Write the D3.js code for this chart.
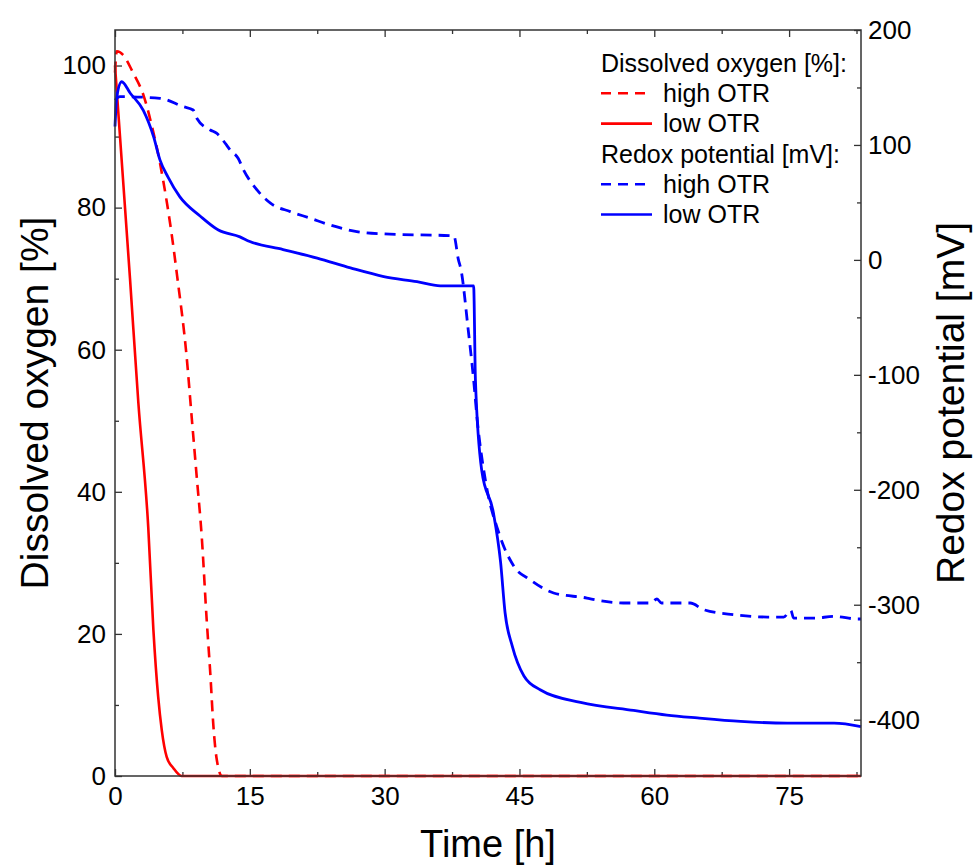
<!DOCTYPE html>
<html>
<head>
<meta charset="utf-8">
<script src="https://cdn.jsdelivr.net/npm/d3@7"></script>
<style>
  body { margin: 0; background: #fff; }
  svg text { font-family: "Liberation Sans", Arial, sans-serif; fill: #000; }
</style>
</head>
<body>
<div id="chart"></div>
<script>
// Dissolved oxygen [%], high OTR (dashed red)
const doHighTime = [0, 0.2, 0.9, 2.0, 3.2, 4.1, 5.0, 5.8, 6.3, 6.9, 8.0, 8.5, 9.1, 9.65, 10.2, 10.6, 10.95, 11.3, 11.9, 83];
const doHighVal  = [99, 102, 101.5, 99, 95.7, 91.5, 86.3, 80.5, 76.3, 70.5, 58.6, 51, 42, 33.7, 22, 14.5, 7, 2.5, 0, 0];

// Dissolved oxygen [%], low OTR (solid red)
const doLowTime = [0, 1.67, 2.6, 3.7, 4.27, 4.8, 5.2, 5.75, 6.5, 7.4, 83];
const doLowVal  = [100, 70, 52.5, 35, 20.6, 11.2, 6.5, 2.7, 1.1, 0, 0];

// Redox potential [mV], high OTR (dashed blue)
const redoxHighTime = [0, 0.55, 5, 7.6, 8.7, 9.1, 10.6, 11.3, 12.4, 12.8, 13.7, 14.3, 15.8, 17.3, 19.5, 21.7, 23.9, 26.9, 29.9, 37.7,
  38.2, 38.5, 39.3, 39.9, 40.3, 41.2, 42.7, 44.4, 46.2, 48.8, 52.5, 53.4, 57, 59.6, 60.3, 60.8, 64, 65.5, 68.9, 72.6, 74.4, 75.2, 75.5, 77.8, 80, 82.6, 83];
const redoxHighVal  = [139, 142, 140.6, 133.3, 130.4, 123.2, 113, 110.2, 100, 95.7, 88.4, 78.3, 60.9, 49.3, 42, 36.3, 30.4, 24.6, 22.6, 20.9,
  0.5, -8.7, -60.9, -104.3, -139.1, -191.3, -237.4, -266.7, -278.3, -289.8, -294.2, -295.7, -298.5, -298.5, -295, -298.5, -298.5, -304.3, -308.7, -310.7, -310.7, -305, -311.6, -311.6, -310.2, -312.4, -312.4];

// Redox potential [mV], low OTR (solid blue)
const redoxLowTime = [0, 0.2, 0.75, 1.7, 3.15, 4.3, 5.0, 5.9, 7.2, 9.5, 11.5, 13.9, 15, 18.7, 22.5, 26.2, 29.9, 33.6, 36.2, 39.9,
  40.1, 40.8, 42.1, 42.9, 43.4, 44.2, 45.5, 47.3, 51.8, 57.7, 61.4, 64.8, 69.6, 74.8, 80, 83];
const redoxLowVal  = [116, 142, 155, 145, 130, 107, 87, 72, 55, 38, 26, 20, 16, 9, 1.5, -7, -14.5, -19, -22.6, -22.6,
  -104, -183, -220, -263, -307, -336, -362, -374, -385, -392, -396, -398.5, -401.5, -403, -403, -406];

// Axis ticks
const xMajor = [0, 15, 30, 45, 60, 75];
const xMinor = [7.5, 22.5, 37.5, 52.5, 67.5, 82.5];
const yLeftMajor = [0, 20, 40, 60, 80, 100];
const yLeftMinor = [10, 30, 50, 70, 90];
const yRightMajor = [-400, -300, -200, -100, 0, 100, 200];
const yRightMinor = [-350, -250, -150, -50, 50, 150];

const width = 973, height = 868;
const margin = {top: 30, right: 112, bottom: 92, left: 115};

const svg = d3.select("#chart").append("svg")
  .attr("width", width)
  .attr("height", height);

const x = d3.scaleLinear().domain([0, 83]).range([margin.left, width - margin.right]);
const yL = d3.scaleLinear().domain([0, 105]).range([height - margin.bottom, margin.top]);
const yR = d3.scaleLinear().domain([-449, 200]).range([height - margin.bottom, margin.top]);

const fontTick = 26;
const plain = d => String(d);   // hyphen minus like the original

// bottom axis (ticks inward)
svg.append("g").attr("transform", `translate(0,${height - margin.bottom})`)
  .call(d3.axisBottom(x).tickValues(xMajor).tickFormat(plain).tickSizeInner(-7).tickSizeOuter(0).tickPadding(11));
svg.append("g").attr("transform", `translate(0,${height - margin.bottom})`)
  .call(d3.axisBottom(x).tickValues(xMinor).tickSizeInner(-4).tickSizeOuter(0).tickFormat(""));
// top axis, ticks only
svg.append("g").attr("transform", `translate(0,${margin.top})`)
  .call(d3.axisTop(x).tickValues(xMajor).tickSizeInner(-7).tickSizeOuter(0).tickFormat(""));
svg.append("g").attr("transform", `translate(0,${margin.top})`)
  .call(d3.axisTop(x).tickValues(xMinor).tickSizeInner(-4).tickSizeOuter(0).tickFormat(""));

// left axis
svg.append("g").attr("transform", `translate(${margin.left},0)`)
  .call(d3.axisLeft(yL).tickValues(yLeftMajor).tickFormat(plain).tickSizeInner(-7).tickSizeOuter(0).tickPadding(9));
svg.append("g").attr("transform", `translate(${margin.left},0)`)
  .call(d3.axisLeft(yL).tickValues(yLeftMinor).tickSizeInner(-4).tickSizeOuter(0).tickFormat(""));

// right axis
svg.append("g").attr("transform", `translate(${width - margin.right},0)`)
  .call(d3.axisRight(yR).tickValues(yRightMajor).tickFormat(plain).tickSizeInner(-7).tickSizeOuter(0).tickPadding(7));
svg.append("g").attr("transform", `translate(${width - margin.right},0)`)
  .call(d3.axisRight(yR).tickValues(yRightMinor).tickSizeInner(-4).tickSizeOuter(0).tickFormat(""));

svg.selectAll(".tick text").style("font-size", fontTick + "px").attr("font-family", null);
svg.selectAll(".domain").remove();
svg.selectAll(".tick line").attr("stroke", "#333").attr("stroke-width", 1.3);

// series
const line = (xs, ys, yScale) => d3.line()
  .curve(d3.curveMonotoneX)
  .x((d, i) => x(xs[i]))
  .y(d => yScale(d))(ys);

const plot = svg.append("g");
plot.append("path").attr("d", line(doLowTime, doLowVal, yL))
  .attr("fill", "none").attr("stroke", "#ff0000").attr("stroke-width", 2.6);
plot.append("path").attr("d", line(doHighTime, doHighVal, yL))
  .attr("fill", "none").attr("stroke", "#ff0000").attr("stroke-width", 2.6).attr("stroke-dasharray", "11,7");
plot.append("path").attr("d", line(redoxHighTime, redoxHighVal, yR))
  .attr("fill", "none").attr("stroke", "#0000ff").attr("stroke-width", 2.8).attr("stroke-dasharray", "11,7");
plot.append("path").attr("d", line(redoxLowTime, redoxLowVal, yR))
  .attr("fill", "none").attr("stroke", "#0000ff").attr("stroke-width", 2.8);

// frame
svg.append("rect")
  .attr("x", margin.left).attr("y", margin.top)
  .attr("width", width - margin.left - margin.right)
  .attr("height", height - margin.top - margin.bottom)
  .attr("fill", "none").attr("stroke", "#333").attr("stroke-width", 1.5);

// axis titles
svg.append("text").attr("x", (margin.left + width - margin.right) / 2).attr("y", 857)
  .attr("text-anchor", "middle").style("font-size", "38px").text("Time [h]");
svg.append("text").attr("transform", `translate(48,${(margin.top + height - margin.bottom) / 2}) rotate(-90)`)
  .attr("text-anchor", "middle").style("font-size", "39px").text("Dissolved oxygen [%]");
svg.append("text").attr("transform", `translate(964,${(margin.top + height - margin.bottom) / 2}) rotate(-90)`)
  .attr("text-anchor", "middle").style("font-size", "39px").text("Redox potential [mV]");

// legend
const legendItems = [
  {type: "title", label: "Dissolved oxygen [%]:"},
  {type: "line", label: "high OTR", color: "#ff0000", dash: "10,7"},
  {type: "line", label: "low OTR", color: "#ff0000", dash: null},
  {type: "title", label: "Redox potential [mV]:"},
  {type: "line", label: "high OTR", color: "#0000ff", dash: "10,7"},
  {type: "line", label: "low OTR", color: "#0000ff", dash: null}
];
const legend = svg.append("g").attr("transform", "translate(601,63)");
legendItems.forEach((d, i) => {
  const yy = i * 30.3;
  if (d.type === "title") {
    legend.append("text").attr("x", 0).attr("y", yy).attr("dy", "0.35em")
      .style("font-size", "25px").text(d.label);
  } else {
    legend.append("line").attr("x1", 0).attr("x2", 51).attr("y1", yy).attr("y2", yy)
      .attr("stroke", d.color).attr("stroke-width", 2.6).attr("stroke-dasharray", d.dash);
    legend.append("text").attr("x", 62).attr("y", yy).attr("dy", "0.35em")
      .style("font-size", "25px").text(d.label);
  }
});
</script>
</body>
</html>
